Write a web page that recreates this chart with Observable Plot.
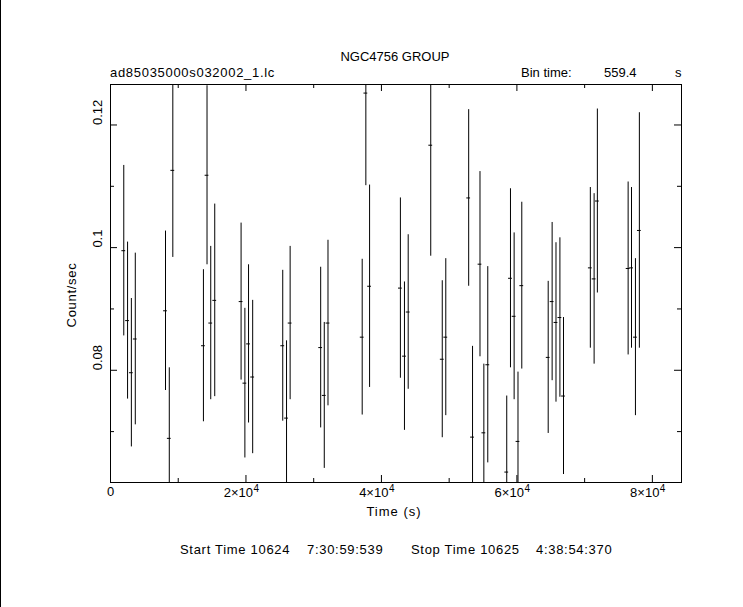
<!DOCTYPE html>
<html><head><meta charset="utf-8">
<script src="https://cdn.jsdelivr.net/npm/d3@7"></script>
<script src="https://cdn.jsdelivr.net/npm/@observablehq/plot@0.6"></script>
<style>
html,body{margin:0;padding:0;background:#fff;}
#wrap{position:relative;width:743px;height:607px;overflow:hidden;font-family:"Liberation Sans",Arial,sans-serif;font-size:13px;color:#000;}
#wrap .t{position:absolute;white-space:pre;line-height:14px;}
#wrap .b{letter-spacing:0.7px;}
#edge{position:absolute;left:0;top:0;width:1px;height:607px;background:#000;}
#chart{position:absolute;left:0;top:0;}
</style></head><body>
<div id="wrap">
  <div id="chart"></div>
  <div id="edge"></div>
  <div class="t" style="left:295px;width:200px;text-align:center;top:50px;">NGC4756 GROUP</div>
  <div class="t b" style="left:110px;top:66px;">ad85035000s032002_1.lc</div>
  <div class="t" style="left:521px;top:66px;">Bin time:</div>
  <div class="t" style="left:604px;top:66px;">559.4</div>
  <div class="t" style="left:675px;top:66px;">s</div>
  <div class="t b" style="left:294px;width:200px;text-align:center;top:505px;letter-spacing:1px;">Time (s)</div>
  <div class="t b" style="left:22px;width:100px;text-align:center;top:288px;transform:rotate(-90deg);">Count/sec</div>
  <div class="t b" style="left:180px;top:543px;">Start Time 10624</div>
  <div class="t b" style="left:307px;top:543px;">7:30:59:539</div>
  <div class="t b" style="left:411px;top:543px;">Stop Time 10625</div>
  <div class="t b" style="left:536px;top:543px;">4:38:54:370</div>
</div>
<script>
// time of each bin (s)
const times = [1960, 2520, 3080, 3660, 8120, 8680, 9200, 13720, 14250, 14800, 15390,
  19280, 19840, 20380, 20990, 25430, 25990, 26520, 31030, 31560, 32110, 37160, 37700, 38250,
  42800, 43400, 43950, 47280, 48980, 49500, 52880, 53450, 54550, 55120, 55700,
  58500, 59050, 59590, 60160, 60720, 64620, 65200, 65770, 66350, 66880,
  70840, 71400, 71880, 76420, 76920, 77500, 78080];
// count rate (count/sec)
const rates = [0.0995, 0.0881, 0.0796, 0.0851, 0.0897, 0.0689, 0.1126, 0.0840, 0.1118, 0.0877, 0.0914,
  0.0912, 0.0779, 0.0843, 0.0789, 0.0840, 0.0722, 0.0877, 0.0837, 0.0759, 0.0877, 0.0854, 0.1252, 0.0937,
  0.0934, 0.0823, 0.0895, 0.1167, 0.0818, 0.0854, 0.1081, 0.0691, 0.0973, 0.0698, 0.0809,
  0.0634, 0.0950, 0.0888, 0.0684, 0.0938, 0.0821, 0.0912, 0.0878, 0.0886, 0.0758,
  0.0967, 0.0949, 0.1076, 0.0966, 0.0967, 0.0854, 0.1028];
// 1-sigma errors (count/sec)
const errors = [0.0139, 0.0128, 0.0121, 0.0140, 0.0130, 0.0115, 0.0142, 0.0124, 0.0146, 0.0125, 0.0157,
  0.0128, 0.0122, 0.0129, 0.0125, 0.0123, 0.0126, 0.0125, 0.0131, 0.0119, 0.0135, 0.0127, 0.0151, 0.0165,
  0.0147, 0.0121, 0.0126, 0.0181, 0.0128, 0.0128, 0.0144, 0.0148, 0.0151, 0.0112, 0.0160,
  0.0124, 0.0146, 0.0136, 0.0113, 0.0136, 0.0124, 0.0129, 0.0130, 0.0130, 0.0128,
  0.0131, 0.0139, 0.0150, 0.0141, 0.0131, 0.0128, 0.0192];
const binTime = 559.4;
const xMajor = [0, 20000, 40000, 60000, 80000];
const xMinor = [10000, 30000, 50000, 70000];
const xBase = ["0", "2\u00d710", "4\u00d710", "6\u00d710", "8\u00d710"];
const xExp = ["", "4", "4", "4", "4"];
const yMajor = [0.08, 0.1, 0.12];
const yMinor = [0.07, 0.09, 0.11];
const yLabels = ["0.08", "0.1", "0.12"];

const data = times.map((t, i) => ({t, v: rates[i], e: errors[i]}));

const W = 743, H = 607, mL = 110, mR = 62, mT = 84, mB = 125;
const fh = H - mT - mB, fw = W - mL - mR;
const majLen = 7, minLen = 4;

const chart = Plot.plot({
  width: W, height: H,
  marginLeft: mL, marginRight: mR, marginTop: mT, marginBottom: mB,
  x: {domain: [0, 84300], axis: null},
  y: {domain: [0.0617, 0.1266], axis: null},
  style: {fontFamily: '"Liberation Sans", Arial, sans-serif', fontSize: "13px", color: "#000", background: "transparent"},
  marks: [
    Plot.ruleX(data, {x: "t", y1: d => d.v - d.e, y2: d => d.v + d.e, stroke: "#000", strokeWidth: 1, clip: true}),
    Plot.ruleY(data, {y: "v", x1: d => d.t - binTime / 2, x2: d => d.t + binTime / 2, stroke: "#000", strokeWidth: 1, clip: true}),
    Plot.tickX(xMajor, {x: d => d, insetTop: fh - majLen, stroke: "#000"}),
    Plot.tickX(xMajor, {x: d => d, insetBottom: fh - majLen, stroke: "#000"}),
    Plot.tickX(xMinor, {x: d => d, insetTop: fh - minLen, stroke: "#000"}),
    Plot.tickX(xMinor, {x: d => d, insetBottom: fh - minLen, stroke: "#000"}),
    Plot.tickY(yMajor, {y: d => d, insetRight: fw - majLen, stroke: "#000"}),
    Plot.tickY(yMajor, {y: d => d, insetLeft: fw - majLen, stroke: "#000"}),
    Plot.tickY(yMinor, {y: d => d, insetRight: fw - minLen, stroke: "#000"}),
    Plot.tickY(yMinor, {y: d => d, insetLeft: fw - minLen, stroke: "#000"}),
    Plot.frame({stroke: "#000", strokeWidth: 1}),
    Plot.text(xMajor, {filter: (d, i) => i === 0, x: d => d, frameAnchor: "bottom", dy: 13, text: (d, i) => xBase[i], fill: "#000"}),
    Plot.text(xMajor, {filter: (d, i) => i > 0, x: d => d, frameAnchor: "bottom", dy: 14, dx: 7, textAnchor: "end", text: (d, i) => xBase[i], fill: "#000"}),
    Plot.text(xMajor, {filter: (d, i) => i > 0, x: d => d, frameAnchor: "bottom", dy: 9, dx: 7.5, textAnchor: "start", fontSize: 10, text: (d, i) => xExp[i], fill: "#000"}),
    Plot.text(yMajor, {y: d => d, frameAnchor: "left", dx: -13, rotate: -90, text: (d, i) => yLabels[i], fill: "#000"})
  ]
});
document.getElementById("chart").appendChild(chart);
</script>
</body></html>
